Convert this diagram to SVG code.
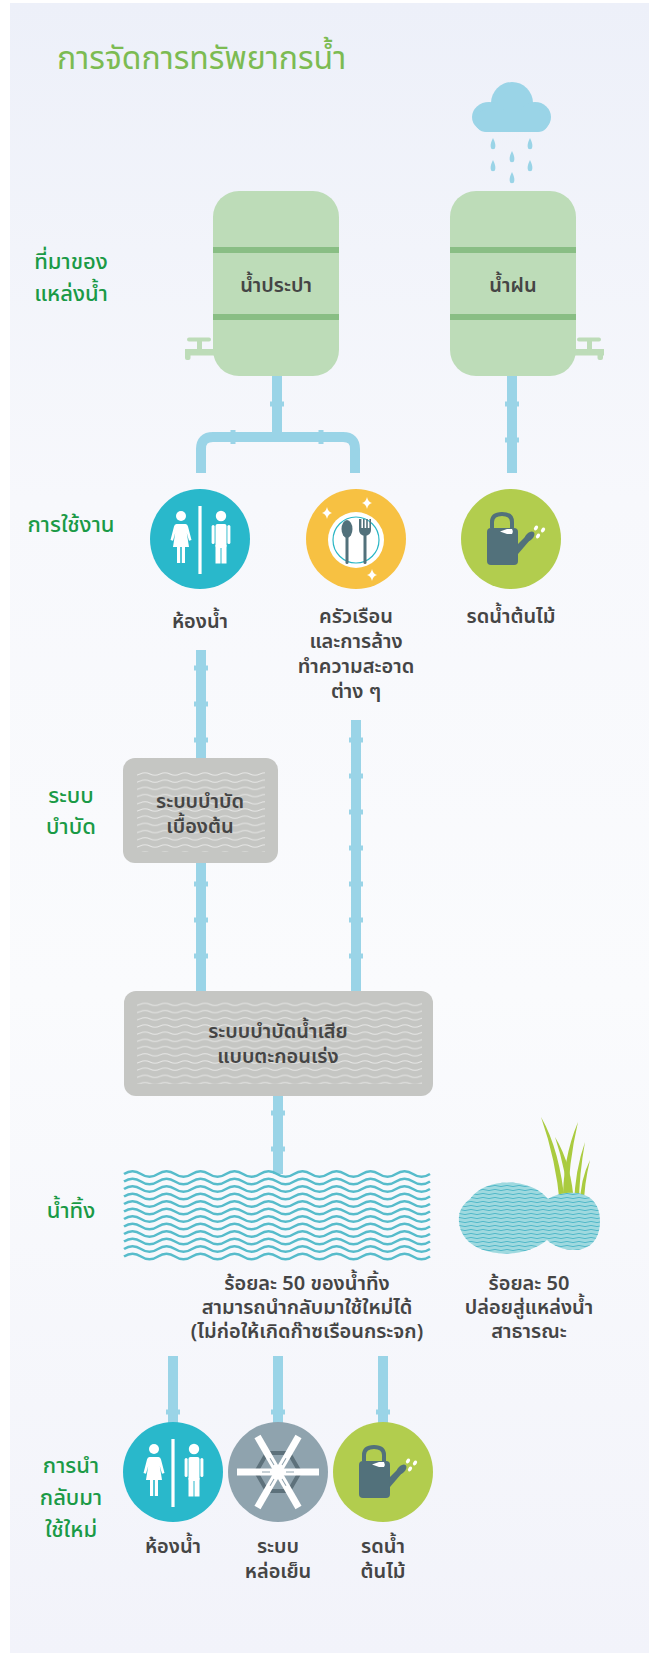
<svg xmlns="http://www.w3.org/2000/svg" xmlns:xlink="http://www.w3.org/1999/xlink" width="649" height="1653" viewBox="0 0 649 1653">
<style>
.th{font-family:"Noto Sans Thai","Noto Sans Thai UI",Tahoma,"Noto Sans","DejaVu Sans",sans-serif;}
.sec{fill:#1a9a46;font-size:22px;font-weight:500;text-anchor:middle;}
.lbl{fill:#454545;font-size:20px;font-weight:600;text-anchor:middle;}
.pipe{fill:none;stroke:#9ad4e7;stroke-width:10;}
.cp{fill:#9ad4e7;}
.tank{fill:#bddcb8;}
.band{fill:#89be84;}
.wh{fill:#ffffff;}
.slate{fill:#52717b;}
</style>
<defs>
  <linearGradient id="bg" x1="0" y1="0" x2="0" y2="1">
    <stop offset="0" stop-color="#edf0f9"/>
    <stop offset="0.3" stop-color="#f7f8fc"/>
    <stop offset="0.6" stop-color="#fafbfd"/>
    <stop offset="1" stop-color="#f2f3fa"/>
  </linearGradient>
  <pattern id="boxWaves" width="20" height="7.2" patternUnits="userSpaceOnUse">
    <path d="M0 3.6 Q5 1.4 10 3.6 T20 3.6" fill="none" stroke="#ffffff" stroke-opacity="0.6" stroke-width="1"/>
  </pattern>
  <pattern id="pondWaves" width="12" height="4" patternUnits="userSpaceOnUse">
    <path d="M0 2 Q3 0.8 6 2 T12 2" fill="none" stroke="#49b6c6" stroke-width="0.9"/>
  </pattern>
  <path id="wv" d="M0 0 q8.5 -5.5 17 0 t17 0 t17 0 t17 0 t17 0 t17 0 t17 0 t17 0 t17 0 t17 0 t17 0 t17 0 t17 0 t17 0 t17 0 t17 0 t17 0 t17 0" fill="none" stroke="#57bccb" stroke-width="2.6"/>
  <rect id="cv" x="-7" y="-2.5" width="14" height="5" class="cp"/>
  <rect id="ch" x="-2.5" y="-7" width="5" height="14" class="cp"/>
  <!-- restroom pictogram, centred on 0,0 -->
  <g id="restroom">
    <rect x="-1.6" y="-33" width="3.2" height="68" class="wh"/>
    <circle cx="-19" cy="-23" r="5" class="wh"/>
    <path d="M-23.5 -15 H-14.5 Q-12.5 -15 -12 -12.5 L-8.5 1 L-11 1.8 L-13.2 -6 L-11 8 H-27 L-24.8 -6 L-27 1.8 L-29.5 1 L-26 -12.5 Q-25.5 -15 -23.5 -15 Z" class="wh"/>
    <rect x="-23" y="7" width="3.2" height="17" class="wh"/>
    <rect x="-18.2" y="7" width="3.2" height="17" class="wh"/>
    <circle cx="21" cy="-23" r="5.2" class="wh"/>
    <rect x="15.5" y="-15" width="11" height="24" rx="2" class="wh"/>
    <rect x="11.6" y="-14" width="3" height="19" rx="1.5" class="wh"/>
    <rect x="27.4" y="-14" width="3" height="19" rx="1.5" class="wh"/>
    <rect x="15.5" y="6" width="5" height="18.5" class="wh"/>
    <rect x="21.5" y="6" width="5" height="18.5" class="wh"/>
  </g>
  <!-- watering can pictogram -->
  <g id="wcan">
    <path d="M-15 -13 V-19 Q-15 -27 -5 -27 Q5 -27 5 -19 V-13" fill="none" stroke="#52717b" stroke-width="4"/>
    <path d="M-20 -9 Q-20 -13 -16 -13 H7 Q11 -13 11 -9 V20 Q11 24 7 24 H-16 Q-20 24 -20 20 Z" class="slate"/>
    <path d="M10 4 L19 -5 L23 -1 L11 13 Z" class="slate"/>
    <ellipse cx="22.5" cy="-4.5" rx="3.6" ry="6" transform="rotate(45 22.5 -4.5)" class="slate"/>
    <path d="M-7 -9.5 L0 -12 H5 Q6.5 -9.5 5 -7 H0 Z" class="wh"/>
    <ellipse cx="29" cy="-13" rx="1.8" ry="2.6" transform="rotate(35 29 -13)" class="wh"/>
    <ellipse cx="36" cy="-11" rx="1.8" ry="2.6" transform="rotate(35 36 -11)" class="wh"/>
    <ellipse cx="31" cy="-5" rx="1.8" ry="2.6" transform="rotate(35 31 -5)" class="wh"/>
  </g>
  <path id="spark" d="M0 -6 Q1 -1 5 0 Q1 1 0 6 Q-1 1 -5 0 Q-1 -1 0 -6 Z" class="wh"/>
</defs>

<!-- backdrop -->
<rect x="0" y="0" width="649" height="1653" fill="#ffffff"/>
<rect x="10" y="3" width="639" height="1650" fill="url(#bg)"/>

<!-- title -->
<text id="title" class="th" x="57" y="69" font-size="32" fill="#7cbb52">การจัดการทรัพยากรน้ำ</text>

<!-- row labels -->
<g id="labels" class="th">
  <text class="sec" x="71" y="269">ที่มาของ</text>
  <text class="sec" x="71" y="301">แหล่งน้ำ</text>
  <text class="sec" x="71" y="532">การใช้งาน</text>
  <text class="sec" x="71" y="803">ระบบ</text>
  <text class="sec" x="71" y="834">บำบัด</text>
  <text class="sec" x="71" y="1218">น้ำทิ้ง</text>
  <text class="sec" x="71" y="1473">การนำ</text>
  <text class="sec" x="71" y="1505">กลับมา</text>
  <text class="sec" x="71" y="1537">ใช้ใหม่</text>
</g>

<!-- connectors: water pipes with couplings -->
<g id="pipes">
  <path class="pipe" d="M277 376 V437"/>
  <path class="pipe" d="M201 473 V449 Q201 437 213 437 H343 Q355 437 355 449 V473"/>
  <path class="pipe" d="M512 376 V473"/>
  <use href="#cv" x="277" y="404"/>
  <use href="#ch" x="233" y="437"/>
  <use href="#ch" x="321" y="437"/>
  <use href="#cv" x="512" y="404"/>
  <use href="#cv" x="512" y="440"/>

  <path class="pipe" d="M201 650 V758"/>
  <use href="#cv" x="201" y="668"/>
  <use href="#cv" x="201" y="704"/>
  <use href="#cv" x="201" y="740"/>
  <path class="pipe" d="M201 863 V991"/>
  <use href="#cv" x="201" y="884"/>
  <use href="#cv" x="201" y="920"/>
  <use href="#cv" x="201" y="956"/>

  <path class="pipe" d="M356 720 V991"/>
  <use href="#cv" x="356" y="740"/>
  <use href="#cv" x="356" y="776"/>
  <use href="#cv" x="356" y="812"/>
  <use href="#cv" x="356" y="848"/>
  <use href="#cv" x="356" y="884"/>
  <use href="#cv" x="356" y="920"/>
  <use href="#cv" x="356" y="956"/>

  <path class="pipe" d="M278 1096 V1174"/>
  <use href="#cv" x="278" y="1113"/>
  <use href="#cv" x="278" y="1149"/>

  <path class="pipe" d="M173 1356 V1425"/>
  <path class="pipe" d="M278 1356 V1425"/>
  <path class="pipe" d="M383 1356 V1425"/>
  <use href="#cv" x="173" y="1412"/>
  <use href="#cv" x="278" y="1412"/>
  <use href="#cv" x="383" y="1412"/>
</g>

<!-- rain cloud -->
<g id="cloud" fill="#9ad4e7">
  <circle cx="512" cy="103" r="21"/>
  <ellipse cx="489" cy="117" rx="17" ry="15"/>
  <ellipse cx="535" cy="117" rx="16" ry="15"/>
  <rect x="475" y="110" width="74" height="22" rx="11"/>
  <path d="M493 138 q3 6 2.3 9 a2.3 2.3 0 0 1 -4.6 0 q-0.7 -3 2.3 -9 Z"/>
  <path d="M530 138 q3 6 2.3 9 a2.3 2.3 0 0 1 -4.6 0 q-0.7 -3 2.3 -9 Z"/>
  <path d="M512 151 q3 6 2.3 9 a2.3 2.3 0 0 1 -4.6 0 q-0.7 -3 2.3 -9 Z"/>
  <path d="M493 160 q3 6 2.3 9 a2.3 2.3 0 0 1 -4.6 0 q-0.7 -3 2.3 -9 Z"/>
  <path d="M530 160 q3 6 2.3 9 a2.3 2.3 0 0 1 -4.6 0 q-0.7 -3 2.3 -9 Z"/>
  <path d="M512 172 q3 6 2.3 9 a2.3 2.3 0 0 1 -4.6 0 q-0.7 -3 2.3 -9 Z"/>
</g>

<!-- tap water tank -->
<g id="tank-tap">
  <rect class="tank" x="213" y="191" width="126" height="185" rx="26"/>
  <rect class="band" x="213" y="247" width="126" height="6"/>
  <rect class="band" x="213" y="314" width="126" height="6"/>
  <g class="tank">
    <rect x="187" y="337.5" width="24" height="4" rx="2"/>
    <rect x="197" y="339" width="5" height="10"/>
    <rect x="185" y="349" width="30" height="6.5"/>
    <rect x="185" y="349" width="5.5" height="11" rx="2"/>
  </g>
  <text class="th lbl" x="276" y="292" font-weight="500">น้ำประปา</text>
</g>

<!-- rain water tank -->
<g id="tank-rain">
  <rect class="tank" x="450" y="191" width="126" height="185" rx="26"/>
  <rect class="band" x="450" y="247" width="126" height="6"/>
  <rect class="band" x="450" y="314" width="126" height="6"/>
  <g class="tank">
    <rect x="577" y="337.5" width="24" height="4" rx="2"/>
    <rect x="587" y="339" width="5" height="10"/>
    <rect x="574" y="349" width="30" height="6.5"/>
    <rect x="597.5" y="349" width="5.5" height="11" rx="2"/>
  </g>
  <text class="th lbl" x="513" y="292" font-weight="500">น้ำฝน</text>
</g>

<!-- uses -->
<g id="use-restroom">
  <circle cx="200" cy="539" r="50" fill="#29b8cb"/>
  <use href="#restroom" transform="translate(200 539)"/>
  <text class="th lbl" x="200" y="628" font-size="26">ห้องน้ำ</text>
</g>
<g id="use-household">
  <circle cx="356" cy="539" r="50" fill="#f7c142"/>
  <circle cx="356" cy="540" r="28" fill="#ffffff"/>
  <circle cx="356" cy="540" r="23" fill="none" stroke="#2bb6c5" stroke-width="1.2"/>
  <ellipse cx="347" cy="529" rx="5.5" ry="9" class="slate"/>
  <rect x="345.5" y="535" width="3" height="29" rx="1.5" class="slate"/>
  <path d="M359 519 v11 q0 5 6 6 q6 -1 6 -6 v-11 h-1.6 v9 h-1.6 v-9 h-1.6 v9 h-1.6 v-9 h-1.6 v9 h-1.6 v-9 Z" class="slate"/>
  <rect x="363.5" y="534" width="3" height="30" rx="1.5" class="slate"/>
  <use href="#spark" transform="translate(367 503)"/>
  <use href="#spark" transform="translate(327 513)"/>
  <use href="#spark" transform="translate(372 575)"/>
  <text class="th lbl" x="356" y="623">ครัวเรือน</text>
  <text class="th lbl" x="356" y="648">และการล้าง</text>
  <text class="th lbl" x="356" y="673">ทำความสะอาด</text>
  <text class="th lbl" x="356" y="698">ต่าง ๆ</text>
</g>
<g id="use-garden">
  <circle cx="511" cy="539" r="50" fill="#b2cd4e"/>
  <use href="#wcan" transform="translate(507 541)"/>
  <text class="th lbl" x="511" y="623">รดน้ำต้นไม้</text>
</g>

<!-- primary treatment -->
<g id="primary-treatment">
  <rect x="123" y="758" width="155" height="105" rx="12" fill="#c5c6c3"/>
  <rect x="137" y="769" width="128" height="83" fill="url(#boxWaves)"/>
  <text class="th lbl" x="200" y="808" font-weight="500">ระบบบำบัด</text>
  <text class="th lbl" x="200" y="833" font-weight="500">เบื้องต้น</text>
</g>

<!-- activated sludge treatment -->
<g id="activated-sludge">
  <rect x="124" y="991" width="309" height="105" rx="12" fill="#c5c6c3"/>
  <rect x="137" y="1002" width="285" height="82" fill="url(#boxWaves)"/>
  <text class="th lbl" x="278" y="1038" font-weight="500">ระบบบำบัดน้ำเสีย</text>
  <text class="th lbl" x="278" y="1063" font-weight="500">แบบตะกอนเร่ง</text>
</g>

<!-- effluent water body -->
<g id="effluent">
  <use href="#wv" x="124" y="1174"/>
  <use href="#wv" x="124" y="1181.5"/>
  <use href="#wv" x="124" y="1189"/>
  <use href="#wv" x="124" y="1196.5"/>
  <use href="#wv" x="124" y="1204"/>
  <use href="#wv" x="124" y="1211.5"/>
  <use href="#wv" x="124" y="1219"/>
  <use href="#wv" x="124" y="1226.5"/>
  <use href="#wv" x="124" y="1234"/>
  <use href="#wv" x="124" y="1241.5"/>
  <use href="#wv" x="124" y="1249"/>
  <use href="#wv" x="124" y="1256.5"/>
  <text class="th lbl" x="307" y="1290" font-weight="500">ร้อยละ 50 ของน้ำทิ้ง</text>
  <text class="th lbl" x="307" y="1314" font-weight="500">สามารถนำกลับมาใช้ใหม่ได้</text>
  <text class="th lbl" x="307" y="1338" font-weight="500">(ไม่ก่อให้เกิดก๊าซเรือนกระจก)</text>
</g>

<!-- public water body -->
<g id="public-water">
  <g fill="#aacb3f">
    <path d="M560 1205 Q556 1160 541 1117 Q560 1150 565 1205 Z"/>
    <path d="M563 1205 Q562 1160 578 1122 Q568 1165 568 1205 Z"/>
    <path d="M569 1205 Q566 1170 555 1137 Q572 1165 574 1205 Z"/>
    <path d="M574 1205 Q575 1170 585 1142 Q579 1175 579 1205 Z"/>
    <path d="M580 1205 Q580 1180 590 1160 Q584 1185 584 1205 Z"/>
  </g>
  <path d="M470 1199 C486 1176 532 1178 548 1199 C562 1190 600 1186 600 1221 C600 1258 562 1254 547 1240 C522 1262 462 1258 459 1222 C458 1212 462 1205 470 1199 Z" fill="#9fd9df"/>
  <path d="M470 1199 C486 1176 532 1178 548 1199 C562 1190 600 1186 600 1221 C600 1258 562 1254 547 1240 C522 1262 462 1258 459 1222 C458 1212 462 1205 470 1199 Z" fill="url(#pondWaves)"/>
  <text class="th lbl" x="529" y="1290" font-weight="500">ร้อยละ 50</text>
  <text class="th lbl" x="529" y="1314" font-weight="500">ปล่อยสู่แหล่งน้ำ</text>
  <text class="th lbl" x="529" y="1338" font-weight="500">สาธารณะ</text>
</g>

<!-- reuse -->
<g id="reuse-restroom">
  <circle cx="173" cy="1472" r="50" fill="#29b8cb"/>
  <use href="#restroom" transform="translate(173 1472)"/>
  <text class="th lbl" x="173" y="1553">ห้องน้ำ</text>
</g>
<g id="reuse-cooling">
  <circle cx="278" cy="1472" r="50" fill="#8fa3ae"/>
  <polygon points="256,1472 267,1453 289,1453 300,1472 289,1491 267,1491" fill="none" stroke="#5d717b" stroke-width="4"/>
  <g fill="#ffffff">
    <rect x="237" y="1468.5" width="82" height="7"/>
    <rect x="237" y="1468.5" width="82" height="7" transform="rotate(60 278 1472)"/>
    <rect x="237" y="1468.5" width="82" height="7" transform="rotate(120 278 1472)"/>
  </g>
  <g stroke="#8fa3ae" stroke-width="1">
    <path d="M262 1472 H270 M286 1472 H294"/>
    <path d="M262 1472 H270 M286 1472 H294" transform="rotate(60 278 1472)"/>
    <path d="M262 1472 H270 M286 1472 H294" transform="rotate(120 278 1472)"/>
  </g>
  <text class="th lbl" x="278" y="1553">ระบบ</text>
  <text class="th lbl" x="278" y="1578">หล่อเย็น</text>
</g>
<g id="reuse-garden">
  <circle cx="383" cy="1472" r="50" fill="#b2cd4e"/>
  <use href="#wcan" transform="translate(379 1474)"/>
  <text class="th lbl" x="383" y="1553">รดน้ำ</text>
  <text class="th lbl" x="383" y="1578">ต้นไม้</text>
</g>
</svg>
